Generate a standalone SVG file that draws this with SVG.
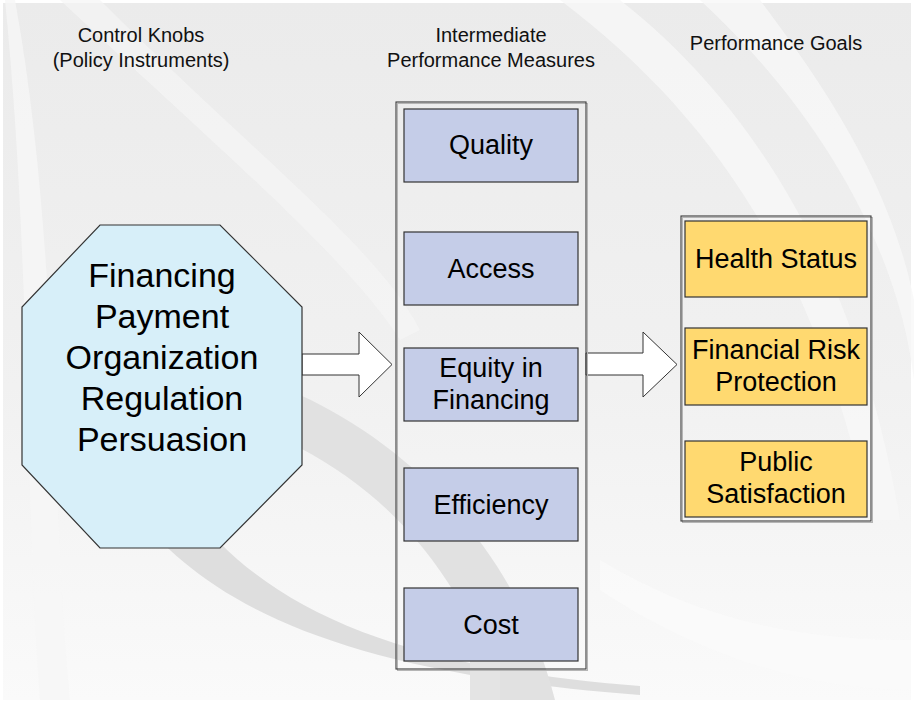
<svg xmlns="http://www.w3.org/2000/svg" width="914" height="704" viewBox="0 0 914 704">
<defs>
<linearGradient id="bg" x1="0" y1="0" x2="0" y2="1">
<stop offset="0" stop-color="#ebebeb"/>
<stop offset="0.55" stop-color="#f1f1f1"/>
<stop offset="1" stop-color="#fafafa"/>
</linearGradient>
<style>
.hdr{font-family:"Liberation Sans",Arial,sans-serif;font-size:20px;fill:#111;text-anchor:middle}
.oct{font-family:"Liberation Sans",Arial,sans-serif;font-size:34px;fill:#000;text-anchor:middle}
.lbl{font-family:"Liberation Sans",Arial,sans-serif;font-size:27px;fill:#000;text-anchor:middle}
.cont{fill:none;stroke:#3a3a3a;stroke-width:1.1}
.contsh{fill:none;stroke:#b5b5b5;stroke-width:1}
.mbox{fill:#c5cde8;stroke:#333;stroke-width:1.2}
.gbox{fill:#ffd970;stroke:#333;stroke-width:1.2}
.arrow{fill:#ffffff;stroke:#333;stroke-width:1}
</style>
</defs>
<g id="background">
<rect x="0" y="0" width="914" height="704" fill="#ffffff"/>
<rect x="3" y="3" width="908" height="697" fill="url(#bg)"/>
<path d="M 15 0 C 60 250, 50 500, 70 700 L 40 700 C 25 500, 30 250, 5 0 Z" fill="#f6f6f6" opacity="0.8"/>
<path d="M 100 0 C 250 150, 380 250, 420 330 L 400 340 C 350 260, 220 150, 60 0 Z" fill="#f5f5f5" opacity="0.7"/>
<path d="M 130 505 C 200 600, 330 672, 640 695 L 640 686 C 400 668, 265 610, 187 505 Z" fill="#dedede"/>
<path d="M 300 395 C 420 450, 520 560, 555 700 L 500 700 C 470 590, 400 500, 300 448 Z" fill="#e1e1e1"/>
<path d="M 470 640 L 500 640 L 500 700 L 470 700 Z" fill="#e4e4e4"/>
<path d="M 560 0 C 720 120, 820 280, 870 520 L 900 520 C 860 280, 760 110, 620 0 Z" fill="#f7f7f7" opacity="0.8"/>
<path d="M 700 0 C 830 120, 900 260, 914 380 L 914 300 C 890 180, 820 80, 760 0 Z" fill="#f8f8f8" opacity="0.8"/>
<path d="M 600 560 C 700 620, 800 640, 911 640 L 911 690 C 800 690, 690 650, 600 590 Z" fill="#f9f9f9" opacity="0.9"/>
</g>
<g id="headers">
<text class="hdr" x="141" y="42">Control Knobs</text>
<text class="hdr" x="141" y="67">(Policy Instruments)</text>
<text class="hdr" x="491" y="42">Intermediate</text>
<text class="hdr" x="491" y="67">Performance Measures</text>
<text class="hdr" x="776" y="50">Performance Goals</text>
</g>
<g id="connectors">
<polygon class="arrow" points="302,354 359,354 359,332 392,364.5 359,397 359,375 302,375"/>
<polygon class="arrow" points="586,353 643,353 643,332 677,364.5 643,397 643,375 586,375"/>
</g>
<g id="control-knobs">
<polygon points="100,225 220,225 302,307 302,465 220,548 100,548 22,465 22,307" fill="#d7eff9" stroke="#333" stroke-width="1.2"/>
<text class="oct" x="162" y="287">Financing</text>
<text class="oct" x="162" y="328">Payment</text>
<text class="oct" x="162" y="369">Organization</text>
<text class="oct" x="162" y="410">Regulation</text>
<text class="oct" x="162" y="451">Persuasion</text>
</g>
<g id="intermediate-container">
<rect class="contsh" x="397.5" y="103.5" width="190" height="567"/>
<rect class="cont" x="396" y="102" width="190" height="567"/>
</g>
<g id="quality">
<rect class="mbox" x="404" y="109" width="174" height="73"/>
<text class="lbl" x="491" y="154">Quality</text>
</g>
<g id="access">
<rect class="mbox" x="404" y="232" width="174" height="73"/>
<text class="lbl" x="491" y="278">Access</text>
</g>
<g id="equity">
<rect class="mbox" x="404" y="348" width="174" height="73"/>
<text class="lbl" x="491" y="377">Equity in</text>
<text class="lbl" x="491" y="409">Financing</text>
</g>
<g id="efficiency">
<rect class="mbox" x="404" y="468" width="174" height="73"/>
<text class="lbl" x="491" y="514">Efficiency</text>
</g>
<g id="cost">
<rect class="mbox" x="404" y="588" width="174" height="73"/>
<text class="lbl" x="491" y="634">Cost</text>
</g>
<g id="goals-container">
<rect class="contsh" x="682.5" y="217.5" width="190" height="305"/>
<rect class="cont" x="681" y="216" width="190" height="305"/>
</g>
<g id="health-status">
<rect class="gbox" x="685" y="221" width="182" height="76"/>
<text class="lbl" x="776" y="268">Health Status</text>
</g>
<g id="financial-risk">
<rect class="gbox" x="685" y="328" width="182" height="77"/>
<text class="lbl" x="776" y="359">Financial Risk</text>
<text class="lbl" x="776" y="391">Protection</text>
</g>
<g id="public-satisfaction">
<rect class="gbox" x="685" y="441" width="182" height="76"/>
<text class="lbl" x="776" y="471">Public</text>
<text class="lbl" x="776" y="503">Satisfaction</text>
</g>
</svg>
